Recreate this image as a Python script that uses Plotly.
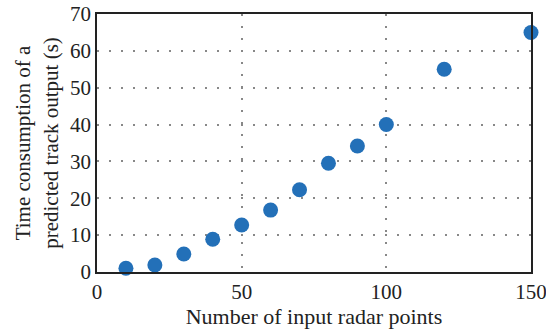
import plotly.graph_objects as go

x_points = [10, 20, 30, 40, 50, 60, 70, 80, 90, 100, 120, 150]
time_s = [1.0, 1.9, 4.9, 8.9, 12.75, 16.8, 22.3, 29.5, 34.2, 40.0, 55.0, 65.0]

x_ticks = [0, 50, 100, 150]
y_ticks = [0, 10, 20, 30, 40, 50, 60, 70]

font_family = "Liberation Serif"

fig = go.Figure()
fig.add_trace(go.Scatter(
    x=x_points, y=time_s, mode="markers",
    marker=dict(size=15, color="#2370B8", line=dict(width=0)),
    cliponaxis=False, showlegend=False,
))

fig.update_layout(
    width=546, height=332,
    margin=dict(l=97, r=15, t=14, b=60, autoexpand=False),
    paper_bgcolor="white", plot_bgcolor="white",
    font=dict(family=font_family, size=21, color="#222"),
    xaxis=dict(
        range=[0, 150], tickvals=x_ticks, ticktext=[str(v) for v in x_ticks],
        showgrid=True, gridcolor="#888", gridwidth=1.5, griddash="1.5px,10.5px",
        showline=True, linecolor="#222", linewidth=1.5, mirror=True,
        ticks="", zeroline=False, automargin=False, ticklabeloverflow="allow",
        title=dict(text="Number of input radar points", standoff=0, font=dict(size=22)),
        tickfont=dict(size=21),
    ),
    yaxis=dict(
        range=[0, 70], tickvals=y_ticks, ticktext=[str(v) for v in y_ticks],
        showgrid=True, gridcolor="#888", gridwidth=1.5, griddash="1.5px,10.5px",
        showline=True, linecolor="#222", linewidth=1.5, mirror=True,
        ticks="", zeroline=False, automargin=False, ticklabeloverflow="allow",
        title=dict(text="Time consumption of a<br>predicted track output (s)", standoff=6, font=dict(size=21)),
        tickfont=dict(size=21),
    ),
)

fig.write_html("out.html")
